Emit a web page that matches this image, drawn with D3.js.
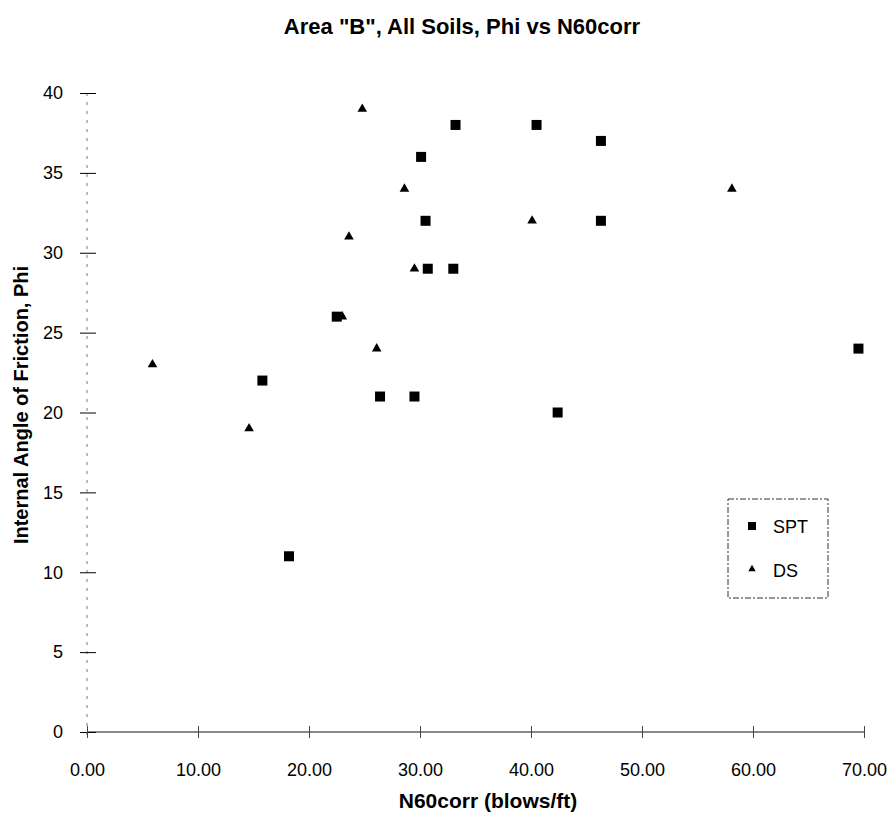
<!DOCTYPE html>
<meta charset="utf-8">
<script src="https://d3js.org/d3.v7.min.js"></script>
<style>
  body { margin: 0; background: #fff; }
  text { font-family: Arial, "Liberation Sans", sans-serif; fill: #000; }
</style>
<div id="my_dataviz"></div>
<script>

// SPT points (N60corr, Phi)
var sptN   = [15.8, 18.2, 22.5, 26.4, 29.5, 30.1, 30.5, 30.7, 33.0, 33.2, 40.5, 42.4, 46.3, 46.3, 69.5];
var sptPhi = [22,   11,   26,   21,   21,   36,   32,   29,   29,   38,   38,   20,   37,   32,   24];

// DS points
var dsN   = [5.9, 14.6, 23.0, 23.6, 24.8, 26.1, 28.6, 29.5, 40.1, 58.1];
var dsPhi = [23,  19,   26,   31,   39,   24,   34,   29,   32,   34];

var xTicks = [0, 10, 20, 30, 40, 50, 60, 70];
var yTicks = [0, 5, 10, 15, 20, 25, 30, 35, 40];
var seriesNames = ["SPT", "DS"];

var width = 893, height = 817;

var svg = d3.select("#my_dataviz")
  .append("svg")
    .attr("width", width)
    .attr("height", height);

var x = d3.scaleLinear()
  .domain([0, 70])
  .range([87, 864]);

var y = d3.scaleLinear()
  .domain([0, 40])
  .range([732, 93]);

// title
svg.append("text")
  .attr("x", 462)
  .attr("y", 34)
  .attr("text-anchor", "middle")
  .style("font-size", "22px")
  .style("font-weight", "bold")
  .text('Area "B", All Soils, Phi vs N60corr');

// y axis: faint dashed line with crossing ticks
svg.append("line")
  .attr("x1", x(0)).attr("x2", x(0))
  .attr("y1", y(40)).attr("y2", y(0) + 6)
  .attr("stroke", "#777")
  .attr("stroke-width", 1)
  .attr("stroke-dasharray", "3,6");

var yAxis = svg.append("g")
  .attr("transform", "translate(" + x(0) + ",0)")
  .call(d3.axisLeft(y).tickValues(yTicks).tickSize(8).tickPadding(16).tickFormat(d3.format("d")));
yAxis.select(".domain").remove();
yAxis.selectAll(".tick line").attr("x2", 9).attr("x1", -7).attr("stroke", "#000");
yAxis.selectAll("text").style("font-size", "18px").style("font-family", "Arial, 'Liberation Sans', sans-serif");

// x axis
var xAxis = svg.append("g")
  .attr("transform", "translate(0," + y(0) + ")")
  .call(d3.axisBottom(x).tickValues(xTicks).tickSize(6).tickPadding(25).tickFormat(d3.format(".2f")));
xAxis.select(".domain").attr("stroke", "#111").attr("d", "M" + x(0) + ",0H" + x(70));
xAxis.selectAll(".tick line").attr("y1", -6).attr("y2", 6).attr("stroke", "#444");
xAxis.selectAll("text").style("font-size", "18px").style("font-family", "Arial, 'Liberation Sans', sans-serif");

// axis titles
svg.append("text")
  .attr("x", 488)
  .attr("y", 808)
  .attr("text-anchor", "middle")
  .style("font-size", "21px")
  .style("font-weight", "bold")
  .text("N60corr (blows/ft)");

svg.append("text")
  .attr("transform", "translate(28,405) rotate(-90)")
  .attr("text-anchor", "middle")
  .style("font-size", "20px")
  .style("font-weight", "bold")
  .text("Internal Angle of Friction, Phi");

// points
var spt = sptN.map(function (d, i) { return {n: d, phi: sptPhi[i]}; });
var ds = dsN.map(function (d, i) { return {n: d, phi: dsPhi[i]}; });

svg.append("g")
  .selectAll("rect")
  .data(spt)
  .enter()
  .append("rect")
    .attr("x", function (d) { return x(d.n) - 5; })
    .attr("y", function (d) { return y(d.phi) - 5; })
    .attr("width", 10)
    .attr("height", 10)
    .attr("fill", "#000");

var tri = d3.symbol().type(d3.symbolTriangle).size(40);
svg.append("g")
  .selectAll("path")
  .data(ds)
  .enter()
  .append("path")
    .attr("d", tri)
    .attr("transform", function (d) { return "translate(" + x(d.n) + "," + y(d.phi) + ")"; })
    .attr("fill", "#000");

// legend
var lg = svg.append("g");
lg.append("rect")
  .attr("x", 728).attr("y", 499)
  .attr("width", 100).attr("height", 99)
  .attr("fill", "none")
  .attr("stroke", "#333")
  .attr("stroke-dasharray", "6,2,2,2");

lg.append("rect")
  .attr("x", 748).attr("y", 522)
  .attr("width", 8).attr("height", 8)
  .attr("fill", "#000");
lg.append("path")
  .attr("d", d3.symbol().type(d3.symbolTriangle).size(24))
  .attr("transform", "translate(752,569)")
  .attr("fill", "#000");

lg.selectAll("text.leg")
  .data(seriesNames)
  .enter()
  .append("text")
    .attr("class", "leg")
    .attr("x", 773)
    .attr("y", function (d, i) { return 533 + i * 44; })
    .style("font-size", "18px")
    .text(function (d) { return d; });

</script>
